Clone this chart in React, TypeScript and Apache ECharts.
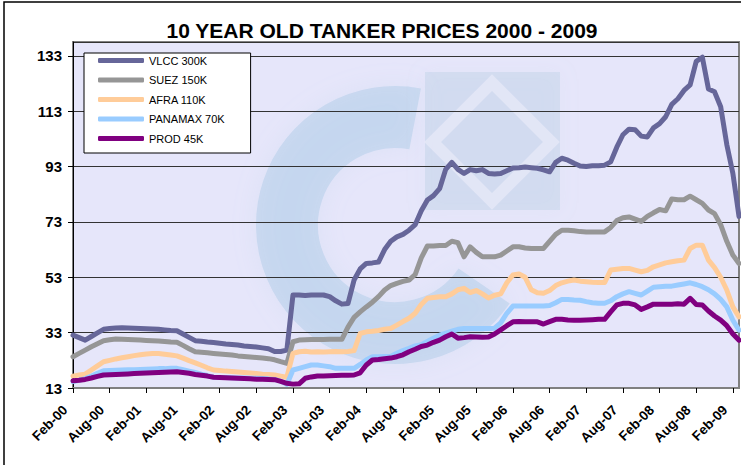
import React, { useEffect, useRef } from 'react';
import * as echarts from 'echarts';

const FONT = 'Arial, "Liberation Sans", sans-serif';
const TITLE = '10 YEAR OLD TANKER PRICES 2000 - 2009';
const MONTH_NAMES = ['Jan', 'Feb', 'Mar', 'Apr', 'May', 'Jun', 'Jul', 'Aug', 'Sep', 'Oct', 'Nov', 'Dec'];
const START_YEAR = 2000;
const START_MONTH = 1; // Feb
const MONTH_COUNT = 110; // Feb-00 .. Mar-09

const categories: string[] = [];
for (let i = 0; i < MONTH_COUNT; i++) {
  const k = START_MONTH + i;
  const y = START_YEAR + Math.floor(k / 12);
  categories.push(`${MONTH_NAMES[k % 12]}-${String(y % 100).padStart(2, '0')}`);
}

const seriesNames = ['VLCC 300K', 'SUEZ 150K', 'AFRA 110K', 'PANAMAX 70K', 'PROD 45K'];
const seriesColors = ['#666699', '#969696', '#FFCC99', '#99CCFF', '#800080'];

const vlcc = [
  32.1, 31.2, 30.3, 31.6, 32.9, 34.2, 34.5, 34.7, 34.8, 34.7, 34.6, 34.5,
  34.4, 34.3, 34.2, 34.0, 33.8, 33.7, 32.5, 31.3, 30.1, 29.9, 29.6, 29.4,
  29.2, 28.9, 28.7, 28.5, 28.2, 28.0, 27.8, 27.5, 27.2, 26.2, 26.2, 26.7,
  46.6, 46.6, 46.4, 46.6, 46.6, 46.6, 46.0, 44.5, 43.3, 43.5, 52.0, 56.0,
  58.0, 58.2, 58.5, 63.0, 66.0, 67.6, 68.5, 70.0, 72.0, 77.0, 80.9, 82.5,
  85.0, 92.0, 94.5, 92.0, 90.5, 91.9, 91.5, 91.9, 90.5, 90.3, 90.5, 91.5,
  92.5, 92.6, 92.8, 92.6, 92.4, 91.8, 91.1, 94.5, 96.0, 95.3, 94.2, 93.2,
  93.0, 93.3, 93.3, 93.5, 94.7, 100.0, 104.5, 106.5, 106.3, 104.0, 103.7, 107.0,
  108.5, 111.0, 115.5, 117.5, 120.5, 122.5, 131.0, 132.5, 121.0, 120.0, 114.6, 101.0,
  90.5, 75.0,
];
const suez = [
  24.3, 25.5, 26.7, 27.9, 29.0, 30.1, 30.4, 30.7, 30.6, 30.5, 30.4, 30.3,
  30.2, 30.1, 30.0, 29.8, 29.6, 29.5, 28.4, 27.2, 26.1, 25.9, 25.7, 25.5,
  25.3, 25.1, 24.9, 24.6, 24.4, 24.2, 24.0, 23.8, 23.6, 23.2, 22.5, 21.9,
  29.7, 30.3, 30.4, 30.5, 30.5, 30.5, 30.6, 30.6, 30.6, 35.0, 38.5, 40.5,
  42.3, 44.0, 46.0, 48.4, 50.0, 50.8, 51.5, 52.0, 54.0, 60.0, 64.3, 64.3,
  64.5, 64.5, 66.0, 65.5, 60.4, 64.0, 62.0, 60.4, 60.4, 60.4, 61.0, 62.5,
  64.0, 64.0, 63.6, 63.4, 63.4, 63.4, 66.0, 68.5, 70.0, 70.0, 69.8, 69.5,
  69.4, 69.4, 69.4, 69.4, 71.0, 73.5, 74.5, 74.8, 74.0, 73.2, 75.0, 76.3,
  77.5, 77.0, 81.3, 81.0, 81.0, 82.3, 81.0, 79.7, 77.3, 76.0, 72.0, 66.0,
  61.0, 58.0,
];
const afra = [
  17.3, 17.7, 18.0, 19.5, 21.0, 22.5, 23.0, 23.5, 23.9, 24.3, 24.7, 25.0,
  25.3, 25.5, 25.5, 25.2, 24.9, 24.6, 23.8, 22.9, 22.1, 21.2, 20.3, 19.5,
  19.3, 19.1, 19.0, 18.8, 18.6, 18.4, 18.2, 18.0, 17.9, 17.7, 17.3, 16.9,
  25.5, 26.1, 26.3, 26.0, 26.1, 26.0, 26.1, 26.2, 26.1, 26.2, 26.5, 32.7,
  33.3, 33.5, 33.8, 34.2, 34.5, 35.7, 37.0, 38.2, 40.0, 43.2, 45.4, 45.7,
  46.0, 46.0, 47.0, 48.5, 49.0, 47.5, 48.2, 47.0, 45.5, 46.5, 47.0, 51.0,
  53.8, 54.2, 53.0, 48.5, 47.4, 47.2, 48.2, 50.0, 51.0, 51.6, 52.0, 51.6,
  51.4, 51.2, 51.1, 51.1, 55.6, 55.9, 56.2, 56.2, 55.6, 55.0, 55.5, 56.8,
  57.5, 58.2, 58.6, 59.0, 59.2, 63.4, 64.6, 64.6, 59.2, 56.5, 53.0, 48.4,
  42.3, 38.7,
];
const panamax = [
  15.3, 15.8, 16.4, 17.3, 18.3, 19.2, 19.3, 19.4, 19.5, 19.6, 19.6, 19.7,
  19.8, 19.9, 20.0, 20.0, 20.1, 20.1, 19.6, 19.1, 18.6, 18.0, 17.5, 16.9,
  16.8, 16.8, 16.7, 16.6, 16.6, 16.5, 16.5, 16.4, 16.3, 16.1, 15.5, 14.3,
  19.5, 20.1, 20.7, 21.3, 21.3, 21.0, 20.7, 20.1, 20.1, 20.1, 20.1, 21.5,
  23.1, 24.3, 24.3, 24.4, 24.5, 25.5, 26.5, 27.3, 28.2, 28.6, 29.8, 31.0,
  32.1, 32.8, 33.5, 34.2, 34.5, 34.5, 34.5, 34.5, 34.5, 34.6, 36.5, 40.0,
  42.6, 42.6, 42.6, 42.6, 42.6, 42.6, 42.8, 43.8, 45.0, 45.0, 44.8, 44.7,
  44.2, 43.8, 43.6, 43.6, 44.5, 46.0, 47.0, 47.8, 47.2, 46.6, 48.0, 49.4,
  49.6, 49.8, 49.8, 50.2, 50.6, 51.0, 50.4, 49.6, 48.5, 47.0, 45.0, 42.3,
  37.5, 33.9,
];
const prod = [
  15.6, 15.8, 16.1, 16.6, 17.2, 17.7, 17.8, 17.9, 18.0, 18.1, 18.2, 18.3,
  18.4, 18.5, 18.6, 18.7, 18.8, 18.9, 18.6, 18.3, 17.9, 17.6, 17.3, 16.9,
  16.8, 16.7, 16.6, 16.5, 16.4, 16.3, 16.2, 16.2, 16.1, 16.0, 15.4, 14.7,
  14.4, 14.5, 16.5, 17.0, 17.3, 17.3, 17.4, 17.5, 17.6, 17.6, 17.7, 18.5,
  21.3, 23.1, 23.3, 23.6, 23.8, 24.3, 25.0, 26.1, 27.0, 28.0, 28.5, 29.5,
  30.3, 31.5, 32.5, 31.0, 31.2, 31.5, 31.4, 31.3, 31.4, 32.5, 34.0, 35.5,
  36.9, 37.0, 36.9, 36.9, 36.9, 36.1, 37.0, 37.8, 37.8, 37.6, 37.5, 37.5,
  37.6, 37.7, 37.8, 37.8, 40.5, 43.0, 43.6, 43.6, 43.0, 41.4, 42.3, 43.3,
  43.3, 43.3, 43.3, 43.4, 43.3, 45.4, 43.2, 43.0, 40.8, 39.0, 37.5, 35.5,
  32.5, 30.3,
];
const seriesData = [vlcc, suez, afra, panamax, prod];

const Y_MIN = 13;
const Y_MAX = 138;
const Y_STEP = 20;

export default function App() {
  const ref = useRef<HTMLDivElement>(null);

  useEffect(() => {
    if (!ref.current) return;
    const chart = echarts.init(ref.current, undefined, { renderer: 'svg' });
    const logoColor = 'rgba(160,196,226,0.38)';
    chart.setOption({
      animation: false,
      backgroundColor: '#ffffff',
      textStyle: { fontFamily: FONT },
      legend: {
        orient: 'vertical',
        left: 84,
        top: 53,
        icon: 'roundRect',
        itemWidth: 46,
        itemHeight: 5,
        itemGap: 8.5,
        padding: [2, 26, 9, 14],
        borderColor: '#000',
        borderWidth: 1,
        backgroundColor: '#ffffff',
        textStyle: { fontFamily: FONT, fontSize: 11, color: '#000' },
        data: seriesNames,
      },
      grid: {
        left: 73,
        right: 2,
        top: 42,
        bottom: 77,
        show: true,
        backgroundColor: 'transparent',
        borderColor: '#808080',
        borderWidth: 2,
      },
      graphic: [
        {
          type: 'rect',
          z: -10,
          silent: true,
          shape: { x: 73, y: 42, width: 666, height: 346 },
          style: { fill: '#E6E6FA' },
        },
        {
          type: 'arc',
          z: -9,
          silent: true,
          shape: { cx: 395, cy: 225, r: 108, startAngle: 0.6, endAngle: 4.9, clockwise: true },
          style: {
            stroke: logoColor,
            lineWidth: 62,
            fill: 'none',
            shadowBlur: 25,
            shadowColor: logoColor,
          },
        },
        {
          type: 'rect',
          z: -9,
          silent: true,
          shape: { x: 425, y: 72, width: 135, height: 138 },
          style: { fill: 'rgba(170,196,220,0.28)', shadowBlur: 20, shadowColor: 'rgba(170,196,220,0.3)' },
        },
        {
          type: 'rect',
          z: -8,
          silent: true,
          x: 492,
          y: 142,
          rotation: Math.PI / 4,
          shape: { x: -42, y: -42, width: 84, height: 84 },
          style: { fill: 'none', stroke: 'rgba(236,236,250,0.6)', lineWidth: 12 },
        },
        {
          type: 'rect',
          z: -10,
          silent: true,
          shape: { x: 4, y: 2, width: 900, height: 900 },
          style: { fill: 'none', stroke: '#000', lineWidth: 1.5 },
        },
        {
          type: 'text',
          z: 10,
          x: 382,
          y: 30,
          style: {
            text: TITLE,
            align: 'center',
            verticalAlign: 'middle',
            fontFamily: FONT,
            fontSize: 21,
            fontWeight: 'bold',
            fill: '#000',
          },
        },
      ],
      xAxis: {
        type: 'category',
        data: categories,
        boundaryGap: false,
        axisLine: { show: true, lineStyle: { color: '#808080', width: 2 } },
        axisTick: { show: true, interval: 5, length: 5, inside: false, lineStyle: { color: '#000' } },
        axisLabel: {
          interval: 5,
          rotate: 45,
          fontFamily: FONT,
          fontSize: 13.5,
          fontWeight: 'bold',
          color: '#000',
          margin: 12,
          padding: [0, 11, 0, 0],
        },
        splitLine: { show: false },
      },
      yAxis: {
        type: 'value',
        min: Y_MIN,
        max: Y_MAX,
        interval: Y_STEP,
        axisLine: { show: true, lineStyle: { color: '#000', width: 1 } },
        axisTick: { show: true, length: 5, lineStyle: { color: '#000' } },
        axisLabel: {
          fontFamily: FONT,
          fontSize: 15,
          fontWeight: 'bold',
          color: '#000',
          margin: 11,
          showMaxLabel: false,
        },
        splitLine: { show: true, lineStyle: { color: '#333', width: 1 } },
      },
      series: seriesNames.map((name, i) => ({
        name,
        type: 'line',
        data: seriesData[i],
        showSymbol: false,
        symbol: 'none',
        color: seriesColors[i],
        lineStyle: { color: seriesColors[i], width: 5, cap: 'round', join: 'round' },
        z: 2 + i,
      })),
    });
    return () => chart.dispose();
  }, []);

  return (
    <div
      ref={ref}
      style={{ position: 'fixed', left: 0, top: 0, width: 741, height: 465 }}
    />
  );
}
